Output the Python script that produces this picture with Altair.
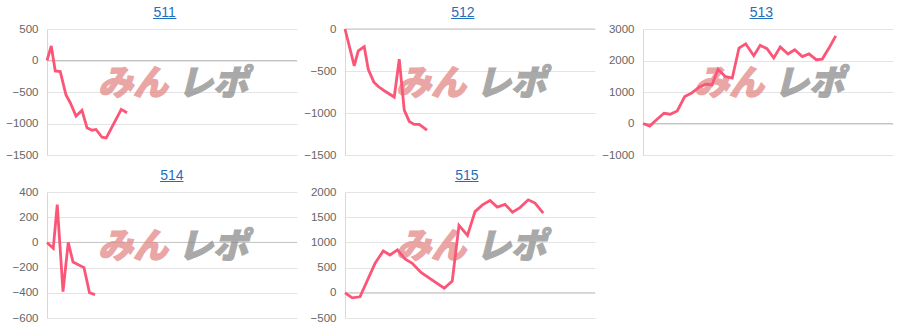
import altair as alt
import pandas as pd

# ---- data (x = games played, y = coin difference) ----
m511_games = [0, 170, 330, 530, 760, 930, 1160, 1400, 1600, 1800, 1960, 2200, 2370, 2970, 3200]
m511_diff = [0, 230, -165, -176, -548, -670, -883, -792, -1069, -1106, -1095, -1218, -1229, -776, -830]

m512_games = [0, 370, 530, 770, 930, 1150, 1330, 1570, 1970, 2170, 2370, 2570, 2770, 2970, 3280]
m512_diff = [0, -440, -260, -210, -480, -630, -685, -735, -810, -360, -965, -1100, -1135, -1135, -1205]

m513_games = [0, 270, 530, 840, 1090, 1370, 1670, 1930, 2270, 2530, 2760, 3000, 3290, 3570, 3840,
              4110, 4430, 4690, 4960, 5230, 5490, 5800, 6070, 6370, 6640, 6930, 7170, 7440, 7710]
m513_diff = [0, -80, 110, 325, 295, 400, 855, 960, 1170, 1250, 1225, 1720, 1490, 1440, 2395,
             2530, 2150, 2480, 2375, 2080, 2430, 2205, 2340, 2125, 2210, 2025, 2045, 2395, 2780]

m514_games = [0, 250, 410, 640, 850, 1040, 1480, 1700, 1920]
m514_diff = [0, -47, 300, -390, 0, -155, -200, -400, -415]

m515_games = [0, 290, 600, 1200, 1530, 1800, 2100, 2400, 2690, 3040, 3300, 3970, 4290, 4560, 4900,
              5200, 5500, 5800, 6090, 6400, 6700, 7000, 7330, 7600, 7930]
m515_diff = [0, -100, -80, 585, 830, 750, 850, 670, 585, 405, 315, 90, 235, 1340, 1140,
             1610, 1745, 1830, 1700, 1755, 1600, 1690, 1845, 1780, 1580]

machine_names = ["511", "512", "513", "514", "515"]
y_ticks_511 = [-1500, -1000, -500, 0, 500]
y_ticks_512 = [-1500, -1000, -500, 0]
y_ticks_513 = [-1000, 0, 1000, 2000, 3000]
y_ticks_514 = [-600, -400, -200, 0, 200, 400]
y_ticks_515 = [-500, 0, 500, 1000, 1500, 2000]
x_max_games = 10000
watermark_parts = ["みん", "レポ"]

LINE = "#fb5577"
BLUE = "#1e6fbf"
W, H = 250, 126


def panel(name, games, diff, ticks, title_x):
    df = pd.DataFrame({"games": games, "diff": diff})
    xs = alt.Scale(domain=[0, x_max_games], nice=False, zero=False)
    ys = alt.Scale(domain=[min(ticks), max(ticks)], nice=False, zero=False)
    yaxis = alt.Axis(values=ticks, title=None, format="d", grid=True,
                     gridColor="#e4e4e4", gridWidth=1)
    one = pd.DataFrame({"label": [name]})

    wm_style = dict(font="Noto Sans CJK JP", fontSize=35, fontWeight=900,
                    fontStyle="italic", opacity=0.75, align="center",
                    baseline="middle", strokeWidth=1.2)
    wm1 = alt.Chart(pd.DataFrame({"t": [watermark_parts[0]]})).mark_text(
        color="#e48787", stroke="#e48787", **wm_style
    ).encode(text="t:N", x=alt.value(86), y=alt.value(55))
    wm2 = alt.Chart(pd.DataFrame({"t": [watermark_parts[1]]})).mark_text(
        color="#8d8d8d", stroke="#8d8d8d", **wm_style
    ).encode(text="t:N", x=alt.value(166), y=alt.value(55))

    zero = alt.Chart(one).mark_rule(color="#c4c4c4", strokeWidth=1).encode(
        y=alt.datum(0, scale=ys, axis=yaxis, type="quantitative"))

    line = alt.Chart(df).mark_line(color=LINE, strokeWidth=2.8).encode(
        x=alt.X("games:Q", scale=xs, axis=None),
        y=alt.Y("diff:Q", scale=ys, axis=yaxis))

    title = alt.Chart(one).mark_text(
        font="Liberation Sans", fontSize=14, color=BLUE, align="center",
        baseline="alphabetic"
    ).encode(text="label:N", x=alt.value(title_x), y=alt.value(-12.5))
    underline = alt.Chart(one).mark_rule(color=BLUE, strokeWidth=1).encode(
        x=alt.value(title_x - 11.7), x2=alt.value(title_x + 11.7), y=alt.value(-10.5))

    return alt.layer(zero, wm1, wm2, line, title, underline).properties(width=W, height=H)


p1 = panel(machine_names[0], m511_games, m511_diff, y_ticks_511, 117.7)
p2 = panel(machine_names[1], m512_games, m512_diff, y_ticks_512, 117.8)
p3 = panel(machine_names[2], m513_games, m513_diff, y_ticks_513, 118.3)
p4 = panel(machine_names[3], m514_games, m514_diff, y_ticks_514, 124.8)
p5 = panel(machine_names[4], m515_games, m515_diff, y_ticks_515, 121.8)

chart = alt.concat(
    p1, p2, p3, p4, p5, columns=3,
    spacing={"row": 37, "column": 48},
    bounds="flush",
).configure_view(
    stroke=None
).configure_axis(
    labelFont="Liberation Sans", labelFontSize=11.5, labelColor="#666666",
    grid=True, gridColor="#e4e4e4", domainColor="#d8d8d8", ticks=False, labelPadding=9,
).properties(background="white")

chart.save("out.html", embed_options={"renderer": "svg", "actions": False})
